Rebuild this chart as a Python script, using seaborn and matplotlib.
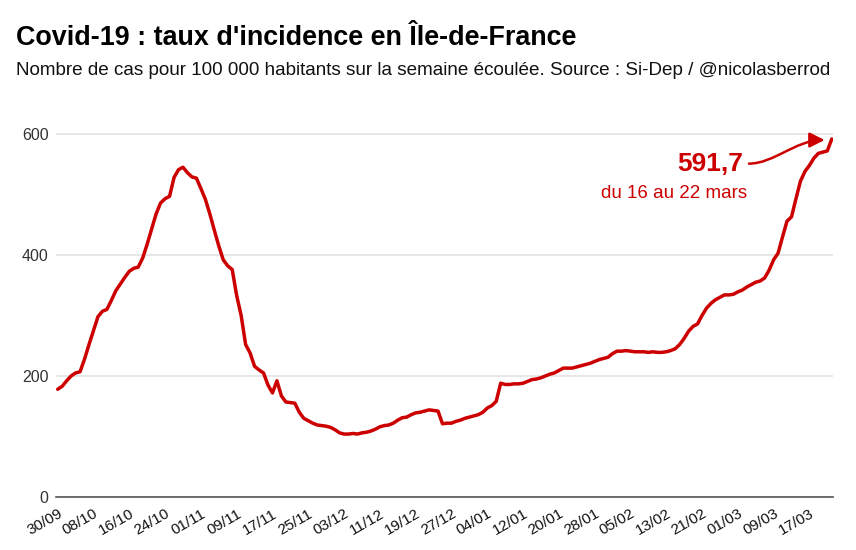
import numpy as np
import pandas as pd
import matplotlib.pyplot as plt
import matplotlib.dates as mdates
import matplotlib.transforms as mtransforms
from matplotlib.patches import FancyArrowPatch
from matplotlib.path import Path
import seaborn as sns

# Taux d'incidence IdF (30/09/2020 -> 22/03/2021)
start_date = "2020-09-30"
end_date = "2021-03-22"
incidence = [
    178, 183, 192, 200, 205, 207, 228, 252, 275, 298,
    307, 310, 325, 341, 352, 363, 373, 378, 380, 395,
    418, 443, 468, 486, 493, 497, 528, 541, 545, 536,
    529, 527, 510, 492, 468, 441, 415, 392, 382, 376,
    333, 300, 252, 238, 216, 210, 205, 185, 172, 192,
    167, 157, 156, 155, 140, 130, 126, 122, 119, 118,
    117, 115, 111, 106, 104, 104, 105, 104, 106, 107,
    109, 112, 116, 118, 119, 122, 127, 131, 132, 136,
    139, 140, 142, 144, 143, 142, 121, 122, 122, 125,
    127, 130, 132, 134, 136, 140, 147, 151, 158, 188,
    186, 186, 187, 187, 188, 191, 194, 195, 197, 200,
    203, 205, 209, 213, 213, 213, 215, 217, 219, 221,
    224, 227, 229, 231, 237, 241, 241, 242, 241, 240,
    240, 240, 239, 240, 239, 239, 240, 242, 245, 252,
    262, 274, 282, 286, 300, 312, 320, 326, 330, 334,
    334, 335, 339, 342, 347, 351, 355, 357, 362, 375,
    392, 403, 430, 456, 463, 493, 522, 538, 548, 560,
    568, 570, 572, 591.7,
]
y_ticks = [0, 200, 400, 600]
last_label = "591,7"
last_period = "du 16 au 22 mars"

dates = pd.date_range(start_date, end_date, freq="D")
df = pd.DataFrame({"date": dates, "incidence": incidence})

sns.set_theme(style="white")
plt.rcParams["font.family"] = ["Liberation Sans", "DejaVu Sans"]

red = "#cc0000"
fig = plt.figure(figsize=(8.56, 5.5), dpi=100)
ax = fig.add_axes([0.065, 0.0964, 0.908, 0.704])

sns.lineplot(data=df, x="date", y="incidence", color=red, linewidth=2.5, ax=ax)

ax.set_ylim(0, 640)
ax.set_xlim(dates[0] - pd.Timedelta(hours=11), dates[-1] + pd.Timedelta(hours=6))
ax.set_yticks(y_ticks)
ax.yaxis.grid(True, color="#e3e3e3", linewidth=1.2)
ax.set_xlabel("")
ax.set_ylabel("")

xticks = dates[::8]
ax.set_xticks(xticks)
ax.xaxis.set_major_formatter(mdates.DateFormatter("%d/%m"))
shift = mtransforms.ScaledTranslation(5 / 100, 0, fig.dpi_scale_trans)
for lab in ax.get_xticklabels():
    lab.set_rotation(30)
    lab.set_ha("right")
    lab.set_rotation_mode("anchor")
    lab.set_transform(lab.get_transform() + shift)
ax.tick_params(axis="x", length=0, pad=7, labelsize=11, labelcolor="#111111")
ax.tick_params(axis="y", length=0, pad=5, labelsize=11.5, labelcolor="#333333")

for side in ["top", "right", "left"]:
    ax.spines[side].set_visible(False)
ax.spines["bottom"].set_color("#555555")
ax.spines["bottom"].set_linewidth(1.2)

# annotation derniere valeur : fleche en S
def xd(i, hours=0):
    return mdates.date2num(dates[i] + pd.Timedelta(hours=hours))

arrow_path = Path(
    [(xd(-20, 12), 551), (xd(-14), 551), (xd(-9), 590), (xd(-2, -14), 590)],
    [Path.MOVETO, Path.CURVE4, Path.CURVE4, Path.CURVE4],
)
arrow = FancyArrowPatch(path=arrow_path, arrowstyle="-|>,head_length=9,head_width=4.5",
                        color=red, linewidth=1.8, transform=ax.transData)
ax.add_patch(arrow)

ax.text(xd(-21, 4), 550, last_label, color=red, fontsize=19,
        fontweight="bold", ha="right", va="center")
ax.text(xd(-20), 502, last_period, color=red, fontsize=13.5, ha="right", va="center")

fig.text(0.019, 0.919, "Covid-19 : taux d'incidence en Île-de-France", fontsize=19.4,
         fontweight="bold", color="black", va="baseline")
fig.text(0.019, 0.863, "Nombre de cas pour 100 000 habitants sur la semaine écoulée. "
         "Source : Si-Dep / @nicolasberrod", fontsize=13.6, color="#111111", va="baseline")

fig.savefig("out.png", dpi=100, facecolor="white")
